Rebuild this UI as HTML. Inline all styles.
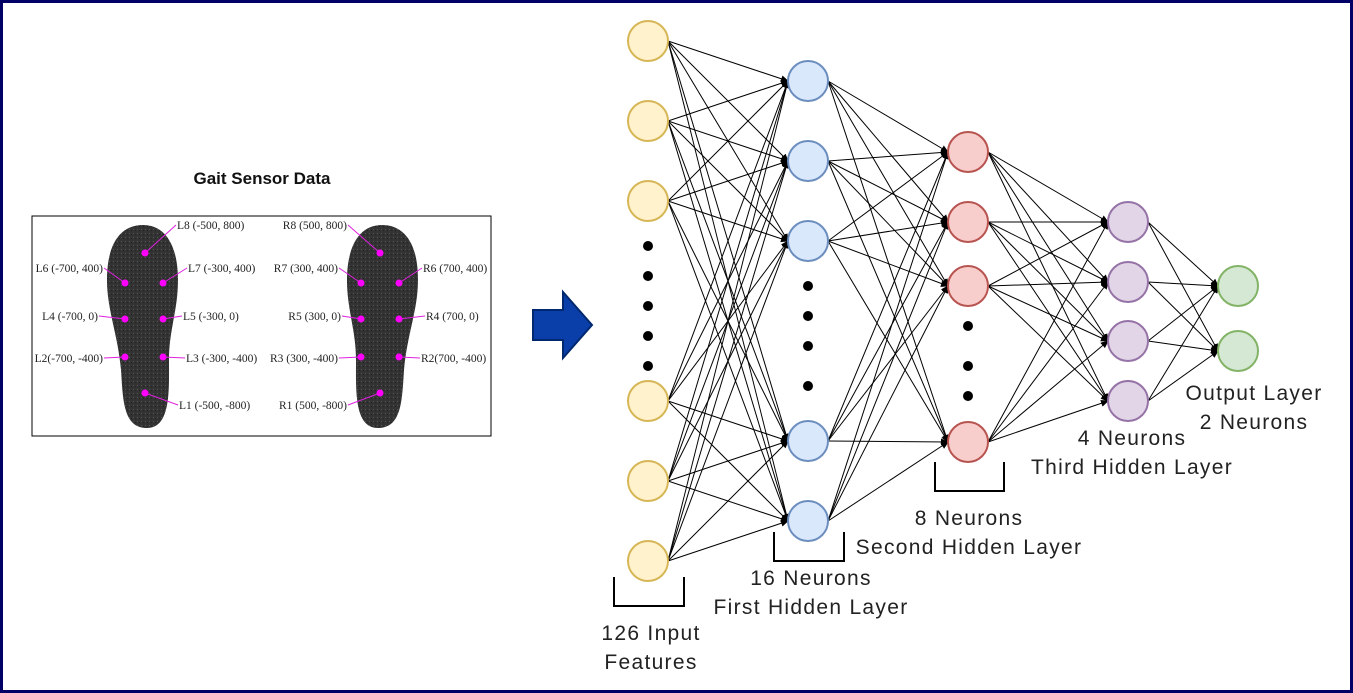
<!DOCTYPE html>
<html><head><meta charset="utf-8">
<style>
html,body{margin:0;padding:0;background:#fff}
svg{display:block}
.lbl{font-family:"Liberation Sans",sans-serif;font-size:21px;fill:#222;letter-spacing:1.3px}
.sl{font-family:"Liberation Serif",serif;font-size:11.5px;fill:#222}
</style></head>
<body>
<svg id="chart" width="1353" height="693" viewBox="0 0 1353 693">
<defs>
<marker id="ah" markerWidth="8" markerHeight="8" refX="7" refY="4" orient="auto" markerUnits="userSpaceOnUse">
<path d="M0,0.5 L8,4 L0,7.5 Z" fill="#000"/>
</marker>
<pattern id="tex" width="4" height="4" patternUnits="userSpaceOnUse">
<rect width="4" height="4" fill="#333"/><rect x="1" y="1" width="1" height="1" fill="#555"/><rect x="3" y="2" width="1" height="1" fill="#222"/>
</pattern>
</defs>
<rect x="1.5" y="1.5" width="1350" height="690" fill="#fff" stroke="#000066" stroke-width="3"/>

<text x="262" y="184" text-anchor="middle" font-family="Liberation Sans, sans-serif" font-weight="bold" font-size="17" fill="#111">Gait Sensor Data</text>
<rect x="32" y="216" width="459" height="220" fill="#fff" stroke="#000" stroke-width="1"/>
<g id="soles"></g>

<path d="M533,310 L563,310 L563,292 L592,325 L563,358 L563,340 L533,340 Z" fill="#0a3ea8" stroke="#00286e" stroke-width="2"/>

<g id="edges"></g>
<g id="nodes"></g>
<g id="dots"></g>

<g fill="none" stroke="#000" stroke-width="2">
<path d="M614,577 V606 H684 V577"/>
<path d="M774,532 V561 H844 V532"/>
<path d="M935,462 V491 H1004 V462"/>
</g>
<text class="lbl" x="651" y="640" text-anchor="middle">126 Input</text>
<text class="lbl" x="651" y="669" text-anchor="middle">Features</text>
<text class="lbl" x="811" y="585" text-anchor="middle">16 Neurons</text>
<text class="lbl" x="811" y="614" text-anchor="middle">First Hidden Layer</text>
<text class="lbl" x="969" y="525" text-anchor="middle">8 Neurons</text>
<text class="lbl" x="969" y="554" text-anchor="middle">Second Hidden Layer</text>
<text class="lbl" x="1132" y="445" text-anchor="middle">4 Neurons</text>
<text class="lbl" x="1132" y="474" text-anchor="middle">Third Hidden Layer</text>
<text class="lbl" x="1254" y="400" text-anchor="middle">Output Layer</text>
<text class="lbl" x="1254" y="429" text-anchor="middle">2 Neurons</text>
</svg>
<script>
const layerX = [648, 808, 968, 1128, 1238];
const layerY = [
  [41, 121, 201, 401, 481, 561],
  [81, 161, 241, 441, 521],
  [152, 222, 286, 442],
  [222, 282, 341, 401],
  [286, 351]
];
const fills = ['#fff2cc','#dae8fc','#f8cecc','#e1d5e7','#d5e8d4'];
const strokes = ['#d6b656','#6c8ebf','#b85450','#9673a6','#82b366'];
const dotsY = [[246,276,306,336,366],[286,316,346,386],[326,366,396]];
const R = 20;
const NS = 'http://www.w3.org/2000/svg';
const eg = document.getElementById('edges'), ng = document.getElementById('nodes'), dg = document.getElementById('dots');
for (let l = 0; l < layerY.length - 1; l++) {
  for (const y1 of layerY[l]) for (const y2 of layerY[l+1]) {
    const ln = document.createElementNS(NS, 'line');
    ln.setAttribute('x1', layerX[l] + R); ln.setAttribute('y1', y1);
    ln.setAttribute('x2', layerX[l+1] - R); ln.setAttribute('y2', y2);
    ln.setAttribute('stroke', '#000'); ln.setAttribute('stroke-width', '1');
    ln.setAttribute('marker-end', 'url(#ah)');
    
    
    eg.appendChild(ln);
  }
}
layerY.forEach((ys, l) => ys.forEach(y => {
  const c = document.createElementNS(NS, 'circle');
  c.setAttribute('cx', layerX[l]); c.setAttribute('cy', y); c.setAttribute('r', R);
  c.setAttribute('fill', fills[l]); c.setAttribute('stroke', strokes[l]); c.setAttribute('stroke-width', '2');
  
  
  ng.appendChild(c);
}));
dotsY.forEach((ys, l) => ys.forEach(y => {
  const c = document.createElementNS(NS, 'circle');
  c.setAttribute('cx', layerX[l]); c.setAttribute('cy', y); c.setAttribute('r', 5); c.setAttribute('fill', '#000');
  
  
  dg.appendChild(c);
}));
const sg = document.getElementById('soles');
function sole(cx, mirror) {
  const m = mirror ? -1 : 1;
  const p = (dx, y) => (cx + m*dx) + ',' + y;
  const d = 'M' + p(0,225) + ' C' + p(25,225) + ' ' + p(35,250) + ' ' + p(35,280) +
    ' C' + p(35,310) + ' ' + p(26,330) + ' ' + p(26,360) +
    ' C' + p(26,390) + ' ' + p(28,428) + ' ' + p(4,428) +
    ' C' + p(-20,428) + ' ' + p(-20,400) + ' ' + p(-22,370) +
    ' C' + p(-25,335) + ' ' + p(-36,310) + ' ' + p(-36,280) +
    ' C' + p(-36,240) + ' ' + p(-20,225) + ' ' + p(0,225) + ' Z';
  const s = document.createElementNS(NS, 'path');
  s.setAttribute('d', d); s.setAttribute('fill', 'url(#tex)');
  
  
  sg.appendChild(s);
}
sole(143, false); sole(382, true);
const sensors = [
  [145,253,'L8 (-500, 800)',176,228,'start'],[125,283,'L6 (-700, 400)',104,271,'end'],[163,283,'L7 (-300, 400)',187,271,'start'],
  [125,319,'L4 (-700, 0)',99,319,'end'],[163,319,'L5 (-300, 0)',182,319,'start'],
  [125,357,'L2(-700, -400)',104,361,'end'],[163,357,'L3 (-300, -400)',185,361,'start'],[145,393,'L1 (-500, -800)',178,408,'start'],
  [380,253,'R8 (500, 800)',348,228,'end'],[361,283,'R7 (300, 400)',339,271,'end'],[399,283,'R6 (700, 400)',422,271,'start'],
  [361,319,'R5 (300, 0)',342,319,'end'],[399,319,'R4 (700, 0)',425,319,'start'],
  [361,357,'R3 (300, -400)',339,361,'end'],[399,357,'R2(700, -400)',420,361,'start'],[380,393,'R1 (500, -800)',348,408,'end']
];
sensors.forEach(s => {
  const ln = document.createElementNS(NS, 'line');
  ln.setAttribute('x1', s[0]); ln.setAttribute('y1', s[1]); ln.setAttribute('x2', s[3]); ln.setAttribute('y2', s[4]-3);
  ln.setAttribute('stroke', '#e020e0'); ln.setAttribute('stroke-width', '1');
  
  
  sg.appendChild(ln);
  const c = document.createElementNS(NS, 'circle');
  c.setAttribute('cx', s[0]); c.setAttribute('cy', s[1]); c.setAttribute('r', 3.5); c.setAttribute('fill', '#ff00ff');
  
  
  sg.appendChild(c);
  const t = document.createElementNS(NS, 'text');
  t.setAttribute('x', s[3] + (s[5]==='start'?1:-1)); t.setAttribute('y', s[4]+1); t.setAttribute('text-anchor', s[5]);
  t.setAttribute('class', 'sl'); t.textContent = s[2];
  
  
  sg.appendChild(t);
});
</script>
</body></html>
